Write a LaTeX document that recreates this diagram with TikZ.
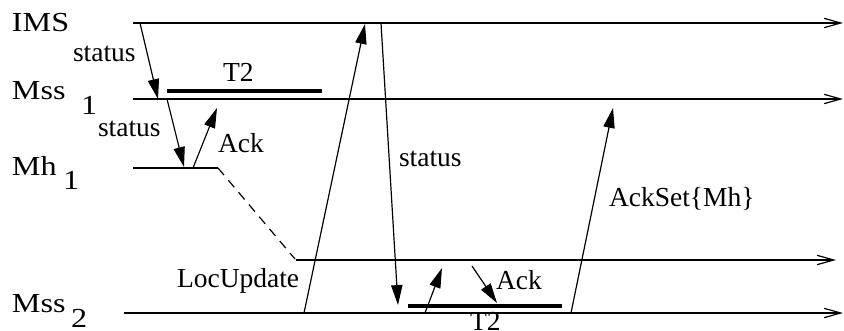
\documentclass[tikz,border=0pt]{standalone}
\usepackage{fontspec}
\setmainfont{Liberation Serif}
\newfontfamily\widefont[FakeStretch=1.17]{Liberation Serif}
\usetikzlibrary{arrows.meta}
\begin{document}
\begin{tikzpicture}[x=0.02646cm,y=-0.02646cm,
  lbl/.style={inner sep=0,outer sep=0,font=\fontsize{20.7}{24}\selectfont,anchor=base west},
  proc/.style={inner sep=0,outer sep=0,font=\widefont\fontsize{20.7}{24}\selectfont,anchor=base west},
  timeline/.style={line width=0.9pt,-{Straight Barb[length=12.5pt,width=7pt]}},
  msg/.style={line width=0.9pt,-{Triangle[length=15pt,width=8.5pt]}},
  timer/.style={line width=2.4pt},
  moved/.style={line width=0.9pt,dash pattern=on 7pt off 5pt}]
\useasboundingbox (0,0) rectangle (844,331);
% process labels
\node[proc] (ims) at (12,32) {IMS};
\node[proc] (mss1) at (12,100) {Mss};
\node[proc] (mss1i) at (81,115) {1};
\node[proc] (mh1) at (12,176) {Mh};
\node[proc] (mh1i) at (63,190) {1};
\node[proc] (mss2) at (12,313) {Mss};
\node[proc] (mss2i) at (71,327) {2};
% time lines
\coordinate (imsS) at (133,23);  \coordinate (imsE) at (843,23);
\coordinate (m1S) at (133,99);   \coordinate (m1E) at (843,99);
\coordinate (mhS) at (133,168);  \coordinate (mhB) at (218,168);
\coordinate (mhD) at (295,259);
\coordinate (m3S) at (296,260);  \coordinate (m3E) at (836,260);
\coordinate (m2S) at (124,313);  \coordinate (m2E) at (843,313);
\draw[timeline] (imsS) -- (imsE);
\draw[timeline] (m1S) -- (m1E);
\draw[line width=0.9pt] (mhS) -- (mhB);
\draw[moved] (mhB) -- (mhD);
\draw[timeline] (m3S) -- (m3E);
\draw[timeline] (m2S) -- (m2E);
% timers
\coordinate (t1a) at (167,91); \coordinate (t1b) at (322,91);
\coordinate (t2a) at (408,306); \coordinate (t2b) at (562,306);
\draw[timer] (t1a) -- (t1b);
\draw[timer] (t2a) -- (t2b);
% messages
\coordinate (s1a) at (140,23);  \coordinate (s1b) at (158,99);
\coordinate (s2a) at (167,99);  \coordinate (s2b) at (184,167);
\coordinate (k1a) at (193,168); \coordinate (k1b) at (217,108);
\coordinate (lua) at (304,313); \coordinate (lub) at (365,24);
\coordinate (s3a) at (381,23);  \coordinate (s3b) at (398,305);
\coordinate (k2a) at (425,313); \coordinate (k2b) at (442,268);
\coordinate (k3a) at (472,266); \coordinate (k3b) at (497,303);
\coordinate (asa) at (571,313); \coordinate (asb) at (613,108);
\draw[msg] (s1a) -- (s1b);
\draw[msg] (s2a) -- (s2b);
\draw[msg] (k1a) -- (k1b);
\draw[msg] (lua) -- (lub);
\draw[msg] (s3a) -- (s3b);
\draw[msg] (k2a) -- (k2b);
\draw[msg] (k3a) -- (k3b);
\draw[msg] (asa) -- (asb);
% message labels
\node[lbl] (ls1) at (73,62) {status};
\node[lbl] (lt1) at (223,82) {T2};
\node[lbl] (ls2) at (98,137) {status};
\node[lbl] (lk1) at (218,153) {Ack};
\node[lbl] (llu) at (177,288) {LocUpdate};
\node[lbl] (ls3) at (399,167) {status};
\node[lbl] (lk2) at (496,290) {Ack};
\node[lbl] (lt2) at (470,330) {T2};
\node[lbl] (las) at (609,207) {AckSet\{Mh\}};
\end{tikzpicture}
\end{document}
